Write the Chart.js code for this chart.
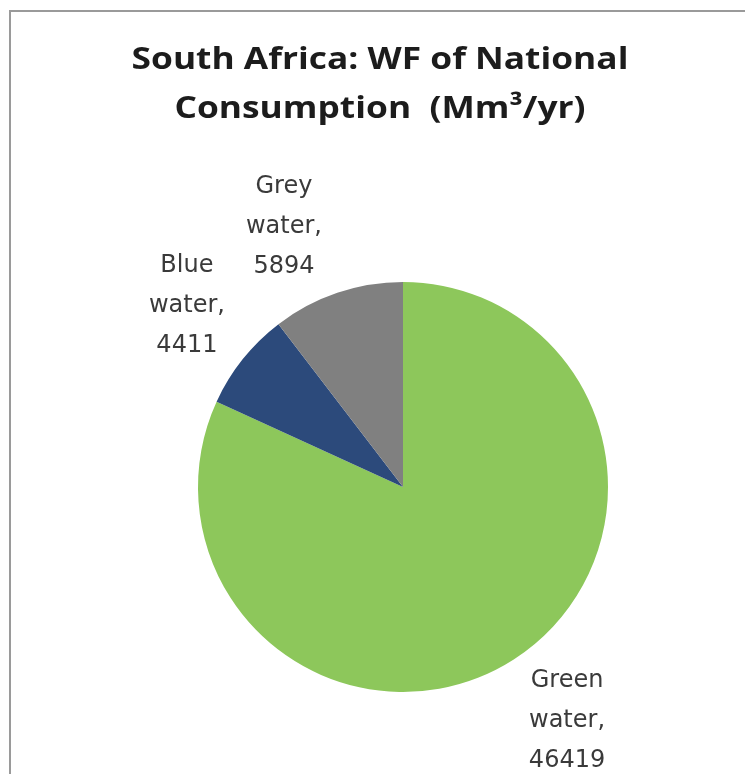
<!DOCTYPE html>
<html>
<head>
<meta charset="utf-8">
<script src="https://cdn.jsdelivr.net/npm/chart.js@4/dist/chart.umd.min.js"></script>
<style>
  html, body { margin: 0; padding: 0; background: #fff; }
  #wrap { position: relative; width: 745px; height: 774px; overflow: hidden; background: #fff; }
  #frame { position: absolute; left: 9px; top: 10px; right: -5px; bottom: -5px;
           border-top: 2px solid #9a9a9a; border-left: 2px solid #9a9a9a; }
  #title { position: absolute; left: 15px; width: 730px; top: 33px; text-align: center;
           font-family: "Open Sans", sans-serif; font-weight: bold; font-size: 31px;
           line-height: 49px; color: #1c1c1c; transform: scaleX(1.14); transform-origin: 365px 0; }
  canvas { position: absolute; left: 0; top: 0; }
</style>
</head>
<body>
<div id="wrap">
  <div id="frame"></div>
  <canvas id="c" width="745" height="774"></canvas>
  <div id="title">South Africa: WF of National<br>Consumption&nbsp; (Mm³/yr)</div>
</div>
<script>
const categories = ['Green water', 'Blue water', 'Grey water'];
const values = [46419, 4411, 5894];
const sliceColors = ['#8DC75B', '#2C4A7B', '#808080'];

// label placement relative to each slice: radius factor and angle shift (degrees)
const labelPlacement = [
  { dist: 1.395, dAngle: -2.3 },
  { dist: 1.376, dAngle: 1.4 },
  { dist: 1.395, dAngle: -5.9 }
];

const outsideLabels = {
  id: 'outsideLabels',
  afterDatasetsDraw(chart) {
    const ctx = chart.ctx;
    const meta = chart.getDatasetMeta(0);
    ctx.save();
    ctx.font = '24px "DejaVu Sans", sans-serif';
    ctx.fillStyle = '#3a3a3a';
    ctx.textAlign = 'center';
    ctx.textBaseline = 'middle';
    meta.data.forEach((arc, i) => {
      const p = arc.getProps(['x', 'y', 'startAngle', 'endAngle', 'outerRadius'], true);
      const pl = labelPlacement[i];
      const mid = (p.startAngle + p.endAngle) / 2 + pl.dAngle * Math.PI / 180;
      const r = p.outerRadius * pl.dist;
      const cx = p.x + Math.cos(mid) * r;
      const cy = p.y + Math.sin(mid) * r;
      const words = categories[i].split(' ');
      const lines = [words[0], words.slice(1).join(' ') + ',', String(chart.data.datasets[0].data[i])];
      const lh = 40;
      lines.forEach((t, k) => {
        ctx.fillText(t, cx, cy + (k - 1) * lh);
      });
    });
    ctx.restore();
  }
};

new Chart(document.getElementById('c'), {
  type: 'pie',
  data: {
    labels: categories,
    datasets: [{
      data: values,
      backgroundColor: sliceColors,
      borderWidth: 0
    }]
  },
  options: {
    responsive: false,
    animation: false,
    layout: { padding: { left: 198, right: 137, top: 282, bottom: 82 } },
    plugins: {
      legend: { display: false },
      title: { display: false },
      tooltip: { enabled: false }
    }
  },
  plugins: [outsideLabels]
});
</script>
</body>
</html>
